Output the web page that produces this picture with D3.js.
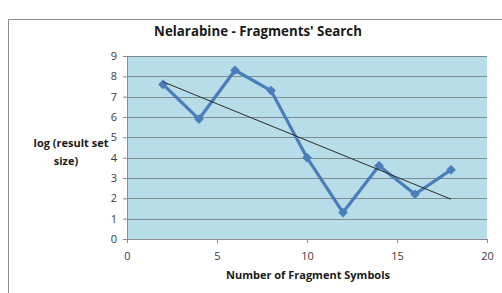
<!DOCTYPE html>
<html>
<head>
<meta charset="utf-8">
<script src="https://cdn.jsdelivr.net/npm/d3@7"></script>
<style>
  body { margin: 0; background: #fff; }
  text { font-family: "Open Sans", "Noto Sans", sans-serif; }
</style>
</head>
<body>
<svg id="chart"></svg>
<script>
// fragment symbols vs log of result set size
var symbols = [2, 4, 6, 8, 10, 12, 14, 16, 18];
var logSize = [7.6, 5.9, 8.3, 7.3, 4.0, 1.3, 3.6, 2.2, 3.4];
var xTicks = [0, 5, 10, 15, 20];
var yTicks = [0, 1, 2, 3, 4, 5, 6, 7, 8, 9];

var W = 502, H = 293;
var margin = {top: 56, right: 15, bottom: 54, left: 127};
var w = W - margin.left - margin.right,
    h = H - margin.top - margin.bottom;

var svg = d3.select('#chart')
    .attr('width', W)
    .attr('height', H);

// chart frame (only left + top visible in the picture)
svg.append('path')
    .attr('d', 'M8.5,' + H + 'V19.5H' + W)
    .attr('fill', 'none')
    .attr('stroke', '#8c8c8c')
    .attr('stroke-width', 1);

svg.append('text')
    .text("Nelarabine - Fragments' Search")
    .attr('x', 258)
    .attr('y', 32)
    .attr('text-anchor', 'middle')
    .attr('dominant-baseline', 'middle')
    .attr('font-size', '13.3px')
    .attr('font-weight', 'bold')
    .attr('fill', '#1a1a1a');

var g = svg.append('g')
    .attr('transform', 'translate(' + margin.left + ',' + margin.top + ')');

var x = d3.scaleLinear().domain([0, 20]).range([0, w]);
var y = d3.scaleLinear().domain([0, 9]).range([h, 0]);

g.append('rect')
    .attr('width', w)
    .attr('height', h)
    .attr('fill', '#b7dde8');

// gridlines
g.selectAll('line.grid')
    .data(yTicks.slice(1))
    .enter().append('line')
    .attr('class', 'grid')
    .attr('x1', 0)
    .attr('x2', w)
    .attr('y1', function(d) { return Math.round(y(d)) + 0.5; })
    .attr('y2', function(d) { return Math.round(y(d)) + 0.5; })
    .attr('stroke', '#7f8c8f')
    .attr('stroke-width', 1.2);

var yAxis = g.append('g')
    .call(d3.axisLeft(y).tickValues(yTicks).tickSize(4).tickPadding(6));
var xAxis = g.append('g')
    .attr('transform', 'translate(0,' + h + ')')
    .call(d3.axisBottom(x).tickValues(xTicks).tickSize(4).tickPadding(9));

[yAxis, xAxis].forEach(function(a) {
    a.select('.domain').attr('stroke', '#8c8c8c');
    a.selectAll('.tick line').attr('stroke', '#8c8c8c');
    a.selectAll('.tick text')
        .attr('fill', '#3a3a3a')
        .attr('font-size', '11px')
        .style('font-family', '"Open Sans", sans-serif');
});

// linear trendline (least squares over the series)
var mx = d3.mean(symbols), my = d3.mean(logSize);
var slope = d3.sum(symbols, function(s, i) { return (s - mx) * (logSize[i] - my); }) /
            d3.sum(symbols, function(s) { return (s - mx) * (s - mx); });
var x0 = d3.min(symbols), x1 = d3.max(symbols);

var pts = symbols.map(function(s, i) { return [s, logSize[i]]; });

g.append('path')
    .datum(pts)
    .attr('fill', 'none')
    .attr('stroke', '#4a7ebb')
    .attr('stroke-width', 3.2)
    .attr('stroke-linejoin', 'round')
    .attr('d', d3.line()
        .x(function(d) { return x(d[0]); })
        .y(function(d) { return y(d[1]); }));

g.selectAll('path.mark')
    .data(pts)
    .enter().append('path')
    .attr('class', 'mark')
    .attr('transform', function(d) { return 'translate(' + x(d[0]) + ',' + y(d[1]) + ')'; })
    .attr('d', d3.symbol().type(d3.symbolDiamond2).size(60))
    .attr('fill', '#4a7ebb');

g.append('line')
    .attr('x1', x(x0))
    .attr('y1', y(my + slope * (x0 - mx)))
    .attr('x2', x(x1))
    .attr('y2', y(my + slope * (x1 - mx)))
    .attr('stroke', '#2b2b2b')
    .attr('stroke-width', 1);

// axis titles
var yl = svg.append('text')
    .attr('text-anchor', 'middle')
    .attr('font-size', '11px')
    .attr('font-weight', 'bold')
    .attr('fill', '#1a1a1a');
yl.append('tspan').attr('x', 71).attr('y', 147).text('log (result set');
yl.append('tspan').attr('x', 66).attr('y', 165).text('size)');

svg.append('text')
    .text('Number of Fragment Symbols')
    .attr('x', 308)
    .attr('y', 279)
    .attr('text-anchor', 'middle')
    .attr('font-size', '11px')
    .attr('font-weight', 'bold')
    .attr('fill', '#1a1a1a');
</script>
</body>
</html>
